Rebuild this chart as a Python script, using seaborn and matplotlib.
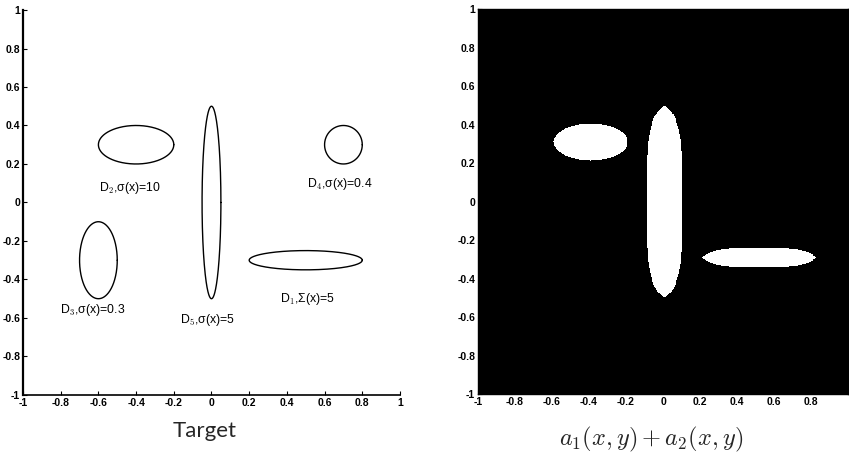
import numpy as np
import pandas as pd
import matplotlib

matplotlib.use("Agg")
import matplotlib.pyplot as plt
import seaborn as sns

# ===================== 数据 =====================
# 左图：目标区域（椭圆：中心 x, y 与半轴 a, b）
target_names = ["D1", "D2", "D3", "D4", "D5"]
target_cx = [0.5, -0.4, -0.6, 0.7, 0.0]
target_cy = [-0.3, 0.3, -0.3, 0.3, 0.0]
target_a = [0.3, 0.2, 0.1, 0.1, 0.05]
target_b = [0.05, 0.1, 0.2, 0.1, 0.5]

# 标注文字
label_texts = [r"D$_1$,Σ(x)=5", r"D$_2$,σ(x)=10", r"D$_3$,σ(x)=0.3",
               r"D$_4$,σ(x)=0.4", r"D$_5$,σ(x)=5"]
label_x = [0.51, -0.43, -0.63, 0.68, -0.02]
label_y = [-0.50, 0.075, -0.56, 0.096, -0.61]

# 右图：a1(x,y)+a2(x,y) 的阈值区域（超椭圆：中心、半轴、指数）
blob_cx = [0.52, -0.39, 0.008]
blob_cy = [-0.29, 0.31, 0.0]
blob_a = [0.305, 0.2, 0.095]
blob_b = [0.048, 0.095, 0.5]
blob_px = [4.0, 2.0, 1.3]
blob_py = [1.3, 2.0, 5.0]

ticks = [-1, -0.8, -0.6, -0.4, -0.2, 0, 0.2, 0.4, 0.6, 0.8, 1]
tick_labels = ["-1", "-0.8", "-0.6", "-0.4", "-0.2", "0", "0.2", "0.4", "0.6", "0.8", "1"]

# ===================== 样式 =====================
sns.set_theme(style="white")
plt.rcParams["font.family"] = ["Liberation Sans Narrow", "Liberation Sans", "DejaVu Sans"]
plt.rcParams["mathtext.fontset"] = "cm"

fig = plt.figure(figsize=(8.49, 4.55), dpi=100)
ax1 = fig.add_axes([0.0271, 0.132, 0.444, 0.846])
ax2 = fig.add_axes([0.563, 0.134, 0.436, 0.846])

# ===================== 左图 =====================
t = np.linspace(0, 2 * np.pi, 400)
rows = []
for name, cx, cy, a, b in zip(target_names, target_cx, target_cy, target_a, target_b):
    rows.append(pd.DataFrame({"x": cx + a * np.cos(t), "y": cy + b * np.sin(t), "region": name}))
df = pd.concat(rows, ignore_index=True)
sns.lineplot(data=df, x="x", y="y", units="region", estimator=None, sort=False,
             color="black", linewidth=1.0, ax=ax1)

for s, x, y in zip(label_texts, label_x, label_y):
    ax1.text(x, y, s, ha="center", va="center", fontsize=8.8, color="black")

ax1.set_xlim(-1, 1)
ax1.set_ylim(-1, 1)
ax1.set_xlabel("")
ax1.set_ylabel("")
for sp in ["top", "right"]:
    ax1.spines[sp].set_visible(False)
ax1.spines["left"].set_linewidth(1.6)
ax1.spines["bottom"].set_linewidth(1.2)
for sp in ["left", "bottom"]:
    ax1.spines[sp].set_color("black")

# ===================== 右图 =====================
g = np.linspace(-1, 1, 401)
X, Y = np.meshgrid(g, g)
Z = np.zeros_like(X)
for cx, cy, a, b, px, py in zip(blob_cx, blob_cy, blob_a, blob_b, blob_px, blob_py):
    inside = np.abs((X - cx) / a) ** px + np.abs((Y - cy) / b) ** py <= 1
    Z[inside] = 1
ax2.pcolormesh(g, g, Z, cmap="gray", vmin=0, vmax=1, shading="auto", rasterized=True)
ax2.set_xlim(-1, 1)
ax2.set_ylim(-1, 1)
for sp in ax2.spines.values():
    sp.set_color("black")
    sp.set_linewidth(1.0)

for ax, xt in [(ax1, ticks), (ax2, ticks[:-1])]:
    ax.set_xticks(xt)
    ax.set_xticklabels(tick_labels[:len(xt)])
    ax.set_yticks(ticks)
    ax.set_yticklabels(tick_labels)
    ax.tick_params(direction="in", length=3, width=0.8, colors="black",
                   labelsize=7.5, pad=2, bottom=True, left=True)
    for lab in ax.get_xticklabels() + ax.get_yticklabels():
        lab.set_fontweight("bold")

fig.text(0.241, 0.052, "Target", ha="center", va="center", fontsize=16,
         family=["Lato", "DejaVu Sans"])
fig.text(0.767, 0.035, r"$a_1(x,y) + a_2(x,y)$", ha="center", va="center", fontsize=17.5)

fig.savefig("out.png", dpi=100)
plt.close(fig)
